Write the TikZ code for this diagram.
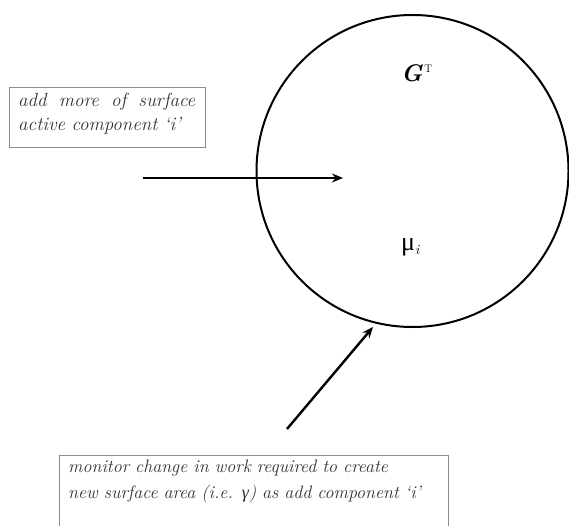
\documentclass[tikz,border=0pt]{standalone}
\usepackage{fontspec}
\newfontfamily\greekfont{Liberation Serif}
\usetikzlibrary{arrows.meta}
\definecolor{txtgray}{HTML}{333333}
\definecolor{boxgray}{HTML}{8C8C8C}
\tikzset{
  labelbox/.style={draw=boxgray, line width=1.3pt, inner sep=0pt, fill=white},
  boxtext/.style={text=txtgray, inner sep=0pt},
  arr/.style={line width=2.4pt, -{Stealth[length=11pt,width=9pt]}},
  surface/.style={line width=2pt, draw=black}
}
\begin{document}
\begin{tikzpicture}[x=1pt,y=-1pt]
\useasboundingbox (0,0) rectangle (569,526);
% phase circle
\node[surface, circle, minimum size=312pt, inner sep=0pt] (phase) at (412.5,171) {};
% labels inside
\node[anchor=base west, inner sep=0pt] (G) at (401,82) {{\fontsize{24}{24}\selectfont\bfseries\itshape G}\,\raisebox{9pt}{\fontsize{11}{11}\selectfont T}};
\node[anchor=base west, inner sep=0pt] (mu) at (401,251) {{\greekfont\fontsize{26}{26}\selectfont μ}{\fontsize{14}{14}\selectfont\raisebox{-4pt}{\itshape i}}};
% box 1
\node[labelbox, anchor=north west, minimum width=196pt, minimum height=60pt] (box1) at (9,87) {};
\node[boxtext, anchor=base west, text width=177pt, align=left, font=\fontsize{19}{24}\selectfont\itshape] (t1) at (18,107) {add\hfill more\hfill of\hfill surface\\active component `i'};
% box 2
\node[labelbox, anchor=north east, minimum width=389pt, minimum height=90pt] (box2) at (449,455) {};
\node[boxtext, anchor=base west, text width=375pt, align=left, font=\fontsize{18}{26}\selectfont\itshape] (t2) at (68,472) {monitor change in work required to create\\new surface area (i.e. {\greekfont γ}) as add component `i'};
% arrows
\coordinate (a1s) at (143,178);
\coordinate (a1e) at (343,178);
\draw[arr] (a1s) -- (a1e);
\coordinate (a2s) at (287,429);
\coordinate (a2e) at (373,327);
\draw[arr] (a2s) -- (a2e);
\end{tikzpicture}
\end{document}
